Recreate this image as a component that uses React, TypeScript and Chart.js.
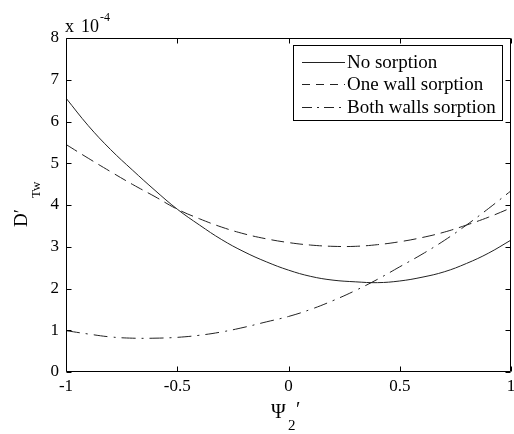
import React, { useEffect, useRef } from "react";
import { Chart, registerables } from "chart.js";

Chart.register(...registerables);

const psi = [-1, -0.9, -0.8, -0.7, -0.6, -0.5, -0.4, -0.3, -0.2, -0.1, 0, 0.1, 0.2, 0.3, 0.4, 0.5, 0.6, 0.7, 0.8, 0.9, 1];
const noSorption = [6.56, 5.9, 5.33, 4.83, 4.35, 3.9, 3.52, 3.17, 2.88, 2.64, 2.44, 2.29, 2.2, 2.16, 2.14, 2.18, 2.27, 2.4, 2.6, 2.85, 3.16];
const oneWall = [5.45, 5.12, 4.8, 4.49, 4.2, 3.9, 3.67, 3.47, 3.31, 3.19, 3.1, 3.04, 3.01, 3.01, 3.05, 3.12, 3.22, 3.35, 3.52, 3.71, 3.93];
const bothWalls = [0.99, 0.91, 0.84, 0.81, 0.81, 0.83, 0.88, 0.96, 1.07, 1.2, 1.33, 1.5, 1.71, 1.95, 2.22, 2.52, 2.82, 3.15, 3.52, 3.92, 4.34];
const xTicks = [-1, -0.5, 0, 0.5, 1];
const yTicks = [0, 1, 2, 3, 4, 5, 6, 7, 8];
const seriesLabels = ["No sorption", "One wall sorption", "Both walls sorption"];
const yExponent = "-4";

const FONT = "'Liberation Serif'";
const solidDash: number[] = [];
const dashedDash = [13, 6];
const dashDotDash = [14, 6, 2, 6];

const framePlugin = {
  id: "frame",
  afterDatasetsDraw(chart: any) {
    const ctx = chart.ctx as CanvasRenderingContext2D;
    const a = chart.chartArea;
    const xs = chart.scales.x;
    const ys = chart.scales.y;
    const L = Math.round(a.left) + 0.5;
    const R = Math.round(a.right) - 0.5;
    const T = Math.round(a.top) + 0.5;
    const B = Math.round(a.bottom) - 0.5;
    ctx.save();
    ctx.strokeStyle = "#000";
    ctx.lineWidth = 1;
    ctx.setLineDash([]);
    ctx.beginPath();
    ctx.rect(L, T, R - L, B - T);
    const tl = 5;
    xTicks.forEach((v) => {
      const px = Math.round(xs.getPixelForValue(v)) + 0.5;
      ctx.moveTo(px, B);
      ctx.lineTo(px, B - tl);
      ctx.moveTo(px, T);
      ctx.lineTo(px, T + tl);
    });
    yTicks.forEach((v) => {
      const py = Math.round(ys.getPixelForValue(v)) + 0.5;
      ctx.moveTo(L, py);
      ctx.lineTo(L + tl, py);
      ctx.moveTo(R, py);
      ctx.lineTo(R - tl, py);
    });
    ctx.stroke();

    // exponent label
    ctx.fillStyle = "#000";
    ctx.textBaseline = "alphabetic";
    ctx.textAlign = "left";
    ctx.font = `18px ${FONT}`;
    ctx.fillText("x", 65, 32);
    ctx.fillText("10", 81, 32);
    ctx.font = `12px ${FONT}`;
    ctx.fillText(yExponent, 100, 21);

    // y title
    ctx.save();
    ctx.translate(27, 227);
    ctx.rotate(-Math.PI / 2);
    ctx.font = `19px ${FONT}`;
    ctx.fillText("D", 0, 0);
    const dw = ctx.measureText("D").width;
    ctx.fillText("\u2032", dw, 0);
    ctx.font = `13px ${FONT}`;
    ctx.fillText("Tw", 29, 13);
    ctx.restore();

    // x title
    ctx.font = `20px ${FONT}`;
    ctx.fillText("\u03A8", 271, 418);
    ctx.font = `15px ${FONT}`;
    ctx.fillText("2", 288, 430);
    ctx.font = `20px ${FONT}`;
    ctx.fillText("\u2032", 296, 416);

    // legend
    const bx = 293.5, by = 45.5, bw = 209, bh = 75;
    ctx.fillStyle = "#fff";
    ctx.fillRect(bx, by, bw, bh);
    ctx.strokeStyle = "#000";
    ctx.strokeRect(bx, by, bw, bh);
    const rows = [62, 84, 107];
    const dashes = [solidDash, [8, 6], [10, 5, 2, 5]];
    ctx.font = `19px ${FONT}`;
    ctx.textBaseline = "middle";
    rows.forEach((ry, i) => {
      ctx.setLineDash(dashes[i]);
      ctx.strokeStyle = "#222";
      ctx.beginPath();
      ctx.moveTo(302, ry + 0.5);
      ctx.lineTo(345, ry + 0.5);
      ctx.stroke();
      ctx.setLineDash([]);
      ctx.fillStyle = "#000";
      ctx.fillText(seriesLabels[i], 347, ry + 1);
    });
    ctx.restore();
  },
};

export default function App() {
  const ref = useRef<HTMLCanvasElement>(null);
  useEffect(() => {
    document.body.style.margin = "0";
    const mk = (vals: number[]) => psi.map((x, i) => ({ x, y: vals[i] }));
    const common = {
      borderColor: "#222",
      borderWidth: 1,
      pointRadius: 0,
      fill: false,
      tension: 0.4,
    };
    const chart = new Chart(ref.current!, {
      type: "line",
      data: {
        datasets: [
          { ...common, label: seriesLabels[0], data: mk(noSorption), borderDash: solidDash },
          { ...common, label: seriesLabels[1], data: mk(oneWall), borderDash: dashedDash },
          { ...common, label: seriesLabels[2], data: mk(bothWalls), borderDash: dashDotDash },
        ],
      },
      options: {
        responsive: false,
        animation: false,
        layout: { padding: { top: 38, right: 3, left: 0, bottom: 0 } },
        plugins: { legend: { display: false }, tooltip: { enabled: false } },
        scales: {
          x: {
            type: "linear",
            min: -1,
            max: 1,
            grid: { display: false, drawTicks: false },
            border: { display: false },
            afterBuildTicks: (s: any) => {
              s.ticks = xTicks.map((v) => ({ value: v }));
            },
            afterFit: (s: any) => {
              s.height = 62;
              s.paddingLeft = 0;
              s.paddingRight = 0;
            },
            ticks: {
              color: "#000",
              padding: 4,
              maxRotation: 0,
              autoSkip: false,
              font: { family: FONT, size: 17 },
              callback: (v: any) => String(v),
            },
          },
          y: {
            type: "linear",
            min: 0,
            max: 8,
            grid: { display: false, drawTicks: false },
            border: { display: false },
            afterBuildTicks: (s: any) => {
              s.ticks = yTicks.map((v) => ({ value: v }));
            },
            afterFit: (s: any) => {
              s.width = 66;
              s.paddingTop = 0;
              s.paddingBottom = 0;
            },
            ticks: {
              color: "#000",
              padding: 7,
              autoSkip: false,
              font: { family: FONT, size: 17 },
              callback: (v: any) => String(v),
            },
          },
        },
      },
      plugins: [framePlugin],
    });
    return () => chart.destroy();
  }, []);
  return (
    <div style={{ position: "fixed", left: 0, top: 0, width: 514, height: 434, background: "#fff" }}>
      <canvas ref={ref} width={514} height={434} style={{ display: "block" }} />
    </div>
  );
}
